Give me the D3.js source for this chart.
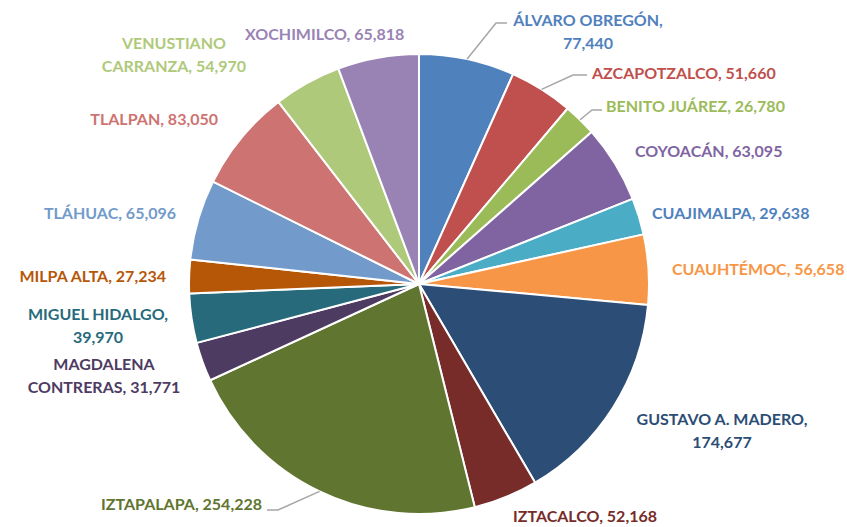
<!DOCTYPE html>
<html>
<head>
<meta charset="utf-8">
<script src="https://cdn.jsdelivr.net/npm/d3@7"></script>
<style>
  body { margin: 0; background: #fff; }
  text { font-family: Lato, "Open Sans", sans-serif; font-weight: bold; font-size: 16px; }
</style>
</head>
<body>
<script>
// alcaldias, in the order they go round the pie (clockwise from 12 o'clock)
const names = ["ÁLVARO OBREGÓN", "AZCAPOTZALCO", "BENITO JUÁREZ", "COYOACÁN", "CUAJIMALPA",
  "CUAUHTÉMOC", "GUSTAVO A. MADERO", "IZTACALCO", "IZTAPALAPA", "MAGDALENA CONTRERAS",
  "MIGUEL HIDALGO", "MILPA ALTA", "TLÁHUAC", "TLALPAN", "VENUSTIANO CARRANZA", "XOCHIMILCO"];
const values = [77440, 51660, 26780, 63095, 29638, 56658, 174677, 52168, 254228, 31771,
  39970, 27234, 65096, 83050, 54970, 65818];
const colors = ["#4F81BD", "#C0504D", "#9BBB59", "#8064A2", "#4BACC6", "#F79646", "#2C4D75",
  "#772C2A", "#5F7530", "#4D3B62", "#276A7C", "#B65708", "#729ACA", "#CD7371", "#AFC97A", "#9983B5"];
const labelColors = ["#4F81BD", "#C0504D", "#9BBB59", "#8064A2", "#4F81BD", "#F79646", "#2C4D75",
  "#772C2A", "#5F7530", "#4D3B62", "#276A7C", "#B65708", "#729ACA", "#CD7371", "#AFC97A", "#9983B5"];

const width = 847, height = 527;
const cx = 419, cy = 284, radius = 230;

// where each label sits (x, y of first line), anchor, how it wraps, and leader elbow if any
const labelPos = [
  { x: 588, y: 19, anchor: "middle", brk: "comma", elbow: [507, 496, 23] },
  { x: 592, y: 72, anchor: "start", elbow: [587, 573, 75] },
  { x: 606, y: 105, anchor: "start", elbow: [602, 592, 110] },
  { x: 635, y: 150, anchor: "start" },
  { x: 652, y: 212, anchor: "start" },
  { x: 672, y: 268, anchor: "start" },
  { x: 722, y: 418, anchor: "middle", brk: "comma" },
  { x: 513, y: 515, anchor: "start" },
  { x: 262, y: 503, anchor: "end", elbow: [267, 278, 510] },
  { x: 104, y: 363, anchor: "middle", brk: "word" },
  { x: 98, y: 313, anchor: "middle", brk: "comma" },
  { x: 166, y: 275, anchor: "end" },
  { x: 176, y: 212, anchor: "end" },
  { x: 218, y: 118, anchor: "end" },
  { x: 174, y: 42, anchor: "middle", brk: "word" },
  { x: 245, y: 33, anchor: "start" }
];
const lineGap = 23.5;

const fmt = d3.format(",");

const svg = d3.select("body").append("svg")
  .attr("width", width)
  .attr("height", height);

const g = svg.append("g").attr("transform", "translate(" + cx + "," + cy + ")");

const pie = d3.pie().sort(null).value(d => d);
const arcs = pie(values);
const arc = d3.arc().innerRadius(0).outerRadius(radius);

g.selectAll("path.slice")
  .data(arcs)
  .enter()
  .append("path")
  .attr("class", "slice")
  .attr("d", arc)
  .attr("fill", (d, i) => colors[i])
  .attr("stroke", "#fff")
  .attr("stroke-width", 2)
  .attr("stroke-linejoin", "round");

// leader lines: elbow -> slice mid-angle on the rim
arcs.forEach(function (a, i) {
  const p = labelPos[i];
  if (!p.elbow) return;
  const mid = (a.startAngle + a.endAngle) / 2;
  const ex = cx + radius * Math.sin(mid);
  const ey = cy - radius * Math.cos(mid);
  svg.append("polyline")
    .attr("points", [[p.elbow[0], p.elbow[2]], [p.elbow[1], p.elbow[2]], [ex, ey]].join(" "))
    .attr("fill", "none")
    .attr("stroke", "#A6A6A6")
    .attr("stroke-width", 1.5);
});

function labelLines(i) {
  const p = labelPos[i];
  const num = fmt(values[i]);
  if (p.brk === "comma") return [names[i] + ",", num];
  if (p.brk === "word") {
    const k = names[i].indexOf(" ");
    return [names[i].slice(0, k), names[i].slice(k + 1) + ", " + num];
  }
  return [names[i] + ", " + num];
}

names.forEach(function (n, i) {
  const p = labelPos[i];
  const t = svg.append("text")
    .attr("text-anchor", p.anchor)
    .attr("fill", labelColors[i]);
  labelLines(i).forEach(function (line, j) {
    t.append("tspan")
      .attr("x", p.x)
      .attr("y", p.y + j * lineGap)
      .attr("dominant-baseline", "central")
      .text(line);
  });
});
</script>
</body>
</html>
